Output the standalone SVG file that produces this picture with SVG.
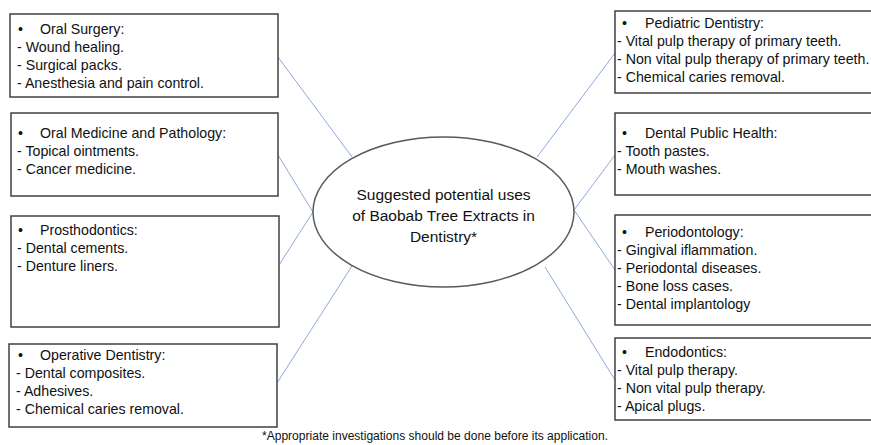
<svg xmlns="http://www.w3.org/2000/svg" width="871" height="445" viewBox="0 0 871 445">
<style>
.box{fill:#ffffff;stroke:#404040;stroke-width:1.5}
.t{font-family:"Liberation Sans",Arial,sans-serif;font-size:14.2px;fill:#111111}
.c{font-family:"Liberation Sans",Arial,sans-serif;font-size:15.5px;fill:#111111;text-anchor:middle}
.f{font-family:"Liberation Sans",Arial,sans-serif;font-size:12px;fill:#111111}
.ln{stroke:#8EA9DB;stroke-width:1;fill:none}
</style>
<rect width="871" height="445" fill="#ffffff"/>
<g id="connectors">
<line class="ln" x1="352" y1="157" x2="278" y2="57"/>
<line class="ln" x1="313" y1="212" x2="278" y2="155"/>
<line class="ln" x1="313" y1="212" x2="279" y2="265"/>
<line class="ln" x1="352" y1="266" x2="277" y2="383"/>
<line class="ln" x1="537" y1="157" x2="615" y2="53"/>
<line class="ln" x1="574" y1="210" x2="615" y2="155"/>
<line class="ln" x1="574" y1="210" x2="615" y2="270"/>
<line class="ln" x1="545" y1="267" x2="615" y2="380"/>
</g>
<g id="center">
<ellipse cx="443.5" cy="212" rx="130.5" ry="75" fill="#ffffff" stroke="#595959" stroke-width="1.5"/>
<text class="c" x="443.5" y="200">Suggested potential uses</text>
<text class="c" x="443.5" y="221">of Baobab Tree Extracts in</text>
<text class="c" x="443.5" y="242">Dentistry*</text>
</g>
<g id="oral-surgery">
<rect class="box" x="10" y="14" width="268" height="83"/>
<text class="t" x="18" y="34">•</text><text class="t" x="40" y="34">Oral Surgery:</text>
<text class="t" x="17" y="52">- Wound healing.</text>
<text class="t" x="17" y="70">- Surgical packs.</text>
<text class="t" x="17" y="88">- Anesthesia  and pain control.</text>
</g>
<g id="oral-medicine">
<rect class="box" x="11" y="113" width="267" height="83"/>
<text class="t" x="18" y="138">•</text><text class="t" x="40" y="138">Oral Medicine and Pathology:</text>
<text class="t" x="17" y="156">- Topical ointments.</text>
<text class="t" x="17" y="174">- Cancer medicine.</text>
</g>
<g id="prosthodontics">
<rect class="box" x="11" y="216" width="268" height="111"/>
<text class="t" x="18" y="235">•</text><text class="t" x="40" y="235">Prosthodontics:</text>
<text class="t" x="17" y="253">- Dental cements.</text>
<text class="t" x="17" y="271">- Denture liners.</text>
</g>
<g id="operative">
<rect class="box" x="9" y="344" width="268" height="83"/>
<text class="t" x="18" y="360">•</text><text class="t" x="40" y="360">Operative Dentistry:</text>
<text class="t" x="16" y="378">- Dental composites.</text>
<text class="t" x="16" y="396">- Adhesives.</text>
<text class="t" x="16" y="414">- Chemical caries removal.</text>
</g>
<g id="pediatric">
<rect class="box" x="615" y="11" width="262" height="82"/>
<text class="t" x="622" y="28">•</text><text class="t" x="645" y="28">Pediatric Dentistry:</text>
<text class="t" x="617" y="46">- Vital pulp therapy of primary teeth.</text>
<text class="t" x="617" y="64">- Non vital pulp therapy of primary teeth.</text>
<text class="t" x="617" y="82">- Chemical caries removal.</text>
</g>
<g id="public-health">
<rect class="box" x="615" y="113" width="262" height="82"/>
<text class="t" x="622" y="138">•</text><text class="t" x="645" y="138">Dental Public Health:</text>
<text class="t" x="617" y="156">- Tooth pastes.</text>
<text class="t" x="617" y="174">- Mouth washes.</text>
</g>
<g id="periodontology">
<rect class="box" x="615" y="215" width="262" height="110"/>
<text class="t" x="622" y="237">•</text><text class="t" x="645" y="237">Periodontology:</text>
<text class="t" x="617" y="255">- Gingival iflammation.</text>
<text class="t" x="617" y="273">- Periodontal diseases.</text>
<text class="t" x="617" y="291">- Bone loss cases.</text>
<text class="t" x="617" y="309">- Dental implantology</text>
</g>
<g id="endodontics">
<rect class="box" x="615" y="338" width="262" height="82"/>
<text class="t" x="622" y="357">•</text><text class="t" x="645" y="357">Endodontics:</text>
<text class="t" x="617" y="375">- Vital pulp therapy.</text>
<text class="t" x="617" y="393">- Non vital pulp therapy.</text>
<text class="t" x="617" y="411">- Apical plugs.</text>
</g>
<text class="f" x="262" y="440" textLength="346" lengthAdjust="spacingAndGlyphs">*Appropriate investigations should be done before its application.</text>
</svg>
